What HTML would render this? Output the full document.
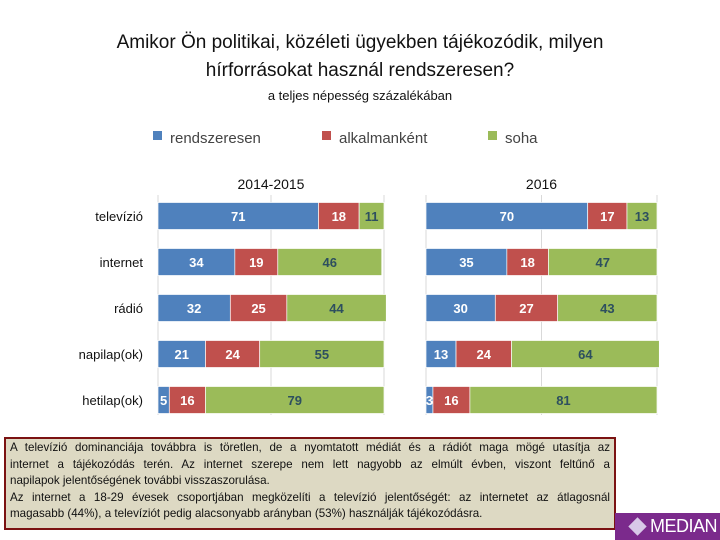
<!DOCTYPE html>
<html><head><meta charset="utf-8"><style>
body{margin:0;width:720px;height:540px;background:#fff;font-family:"Liberation Sans",sans-serif;overflow:hidden;position:relative}
.t{position:absolute;white-space:nowrap}
.ln{text-align:justify;text-align-last:justify;white-space:nowrap}
.ll{text-align:left;white-space:nowrap}
</style></head><body>
<div class="t" style="left:0;width:720px;text-align:center;font-size:19px;line-height:28px;top:29px;color:#111">Amikor Ön politikai, közéleti ügyekben tájékozódik, milyen<br>hírforrásokat használ rendszeresen?</div>
<div class="t" style="left:0;width:720px;top:88px;text-align:center;font-size:13px;color:#111">a teljes népesség százalékában</div>
<svg id="c" width="720" height="540" style="position:absolute;left:0;top:0"></svg>
<div class="t" style="left:4px;top:437px;width:600px;height:88px;background:#ddd9c3;border:2px solid #7b1212;font-size:11.6px;line-height:16.5px;padding:1px 4px 0 4px;white-space:normal;color:#111;letter-spacing:0">
<div class="ln">A televízió dominanciája továbbra is töretlen, de a nyomtatott médiát és a rádiót maga mögé utasítja az</div>
<div class="ln">internet a tájékozódás terén. Az internet szerepe nem lett nagyobb az elmúlt évben, viszont feltűnő a</div>
<div class="ll">napilapok jelentőségének további visszaszorulása.</div>
<div class="ln">Az internet a 18-29 évesek csoportjában megközelíti a televízió jelentőségét: az internetet az átlagosnál</div>
<div class="ll">magasabb (44%), a televíziót pedig alacsonyabb arányban (53%) használják tájékozódásra.</div>
</div>
<div class="t" style="left:615px;top:513px;width:105px;height:27px;background:#7b2a8c;color:#fff;font-size:18px;line-height:27px;text-align:right;box-sizing:border-box;padding-right:3px;letter-spacing:-0.5px"><span style="display:inline-block;width:13px;height:13px;background:#d8c8e8;transform:rotate(45deg);margin-right:6px;vertical-align:-1px"></span>MEDIAN</div>
<script>
const categories=["televízió","internet","rádió","napilap(ok)","hetilap(ok)"];
const seriesNames=["rendszeresen","alkalmanként","soha"];
const reg2014=[71,34,32,21,5];
const occ2014=[18,19,25,24,16];
const never2014=[11,46,44,55,79];
const reg2016=[70,35,30,13,3];
const occ2016=[17,18,27,24,16];
const never2016=[13,47,43,64,81];
const panelTitles=["2014-2015","2016"];
const colors=["#4f81bd","#c0504d","#9bbb59"];
const labelColors=["#fff","#fff","#2d4f5f"];
const NS="http://www.w3.org/2000/svg";
const svg=document.getElementById('c');
function mk(tag,a,txt){const e=document.createElementNS(NS,tag);for(const k in a)e.setAttribute(k,a[k]);if(txt!==undefined)e.textContent=txt;svg.appendChild(e);return e;}
const panels=[{x0:158,w:226,data:[reg2014,occ2014,never2014]},{x0:426,w:231,data:[reg2016,occ2016,never2016]}];
const yc=i=>216+i*46;
const barH=27;
panels.forEach((p,pi)=>{
  const sx=v=>p.x0+v/100*p.w;
  [0,50,100].forEach(g=>{const l=mk('line',{x1:sx(g),x2:sx(g),y1:195,y2:415,stroke:'#d9d9d9','stroke-width':1});
    });
  const t=mk('text',{x:sx(50),y:189,'text-anchor':'middle','font-size':14,fill:'#111'},panelTitles[pi]);
  
  categories.forEach((c,i)=>{
    let acc=0;
    p.data.forEach((arr,s)=>{
      const v=arr[i];
      const r=mk('rect',{x:sx(acc),y:yc(i)-barH/2,width:sx(acc+v)-sx(acc),height:barH,fill:colors[s],stroke:'#fff','stroke-width':0.7});
      
      const lb=mk('text',{x:(sx(acc)+sx(acc+v))/2,y:yc(i)+5,'text-anchor':'middle','font-size':13,'font-weight':'bold',fill:labelColors[s]},v);
      
      acc+=v;
    });
  });
});
categories.forEach((c,i)=>{const t=mk('text',{x:143,y:yc(i)+5,'text-anchor':'end','font-size':13,fill:'#111'},c);
  });
const lx=[153,322,488];
seriesNames.forEach((n,s)=>{
  const r=mk('rect',{x:lx[s],y:131,width:9,height:9,fill:colors[s]});
  
  const t=mk('text',{x:lx[s]+17,y:143,'font-size':15,fill:'#444'},n);
  
});
</script>
</body></html>
